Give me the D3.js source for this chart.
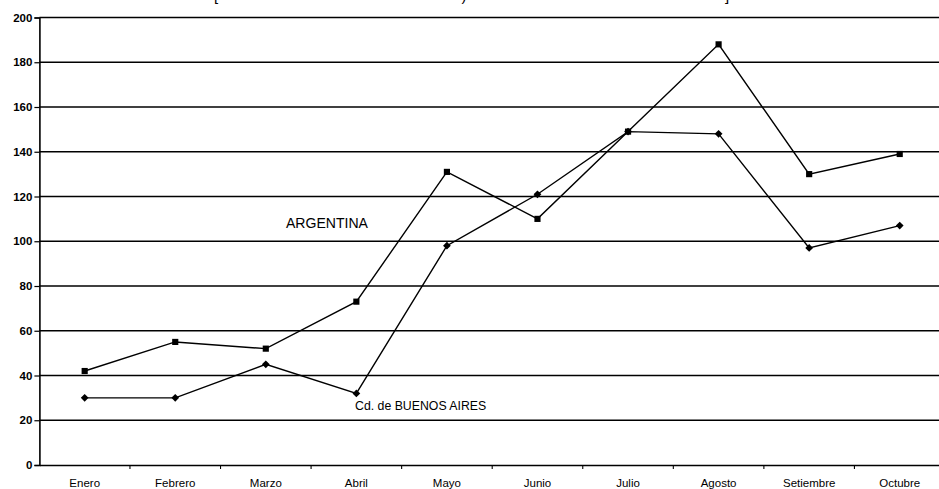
<!DOCTYPE html>
<html>
<head>
<meta charset="utf-8">
<script src="https://cdn.jsdelivr.net/npm/d3@7/dist/d3.min.js"></script>
<style>
  html, body { margin: 0; padding: 0; background: #fff; }
  svg { display: block; }
  text { font-family: "Liberation Sans", Arial, sans-serif; fill: #000; }
</style>
</head>
<body>
<svg id="chart" width="939" height="489"></svg>
<script>
// Months shown on the category axis
const months = ["Enero", "Febrero", "Marzo", "Abril", "Mayo", "Junio", "Julio", "Agosto", "Setiembre", "Octubre"];
// Series values by month
const argentina = [42, 55, 52, 73, 131, 110, 149, 188, 130, 139];
const buenosAires = [30, 30, 45, 32, 98, 121, 149, 148, 97, 107];
// Value axis ticks
const yTicks = [0, 20, 40, 60, 80, 100, 120, 140, 160, 180, 200];
// Series labels
const seriesLabels = ["ARGENTINA", "Cd. de BUENOS AIRES"];

const W = 939, H = 489;
const plot = { left: 39.4, right: 945, top: 17.5, bottom: 465 };

const svg = d3.select("#chart");

const x = d3.scaleBand().domain(months).range([plot.left, plot.right]).paddingInner(0).paddingOuter(0);
const cx = m => x(m) + x.bandwidth() / 2;
const y = d3.scaleLinear().domain([0, 200]).range([plot.bottom, plot.top]);

// Fragments of the heading, cut off at the top edge
const heading = svg.append("g").attr("font-size", 15);
[["[", 216], [")", 464], ["]", 727]].forEach(([c, px]) => {
  heading.append("text").attr("x", px).attr("y", 1).attr("text-anchor", "middle").text(c);
});

// Horizontal gridlines
svg.append("g")
  .selectAll("line")
  .data(yTicks.filter(v => v > 0))
  .join("line")
  .attr("x1", plot.left).attr("x2", W)
  .attr("y1", d => y(d)).attr("y2", d => y(d))
  .attr("stroke", "#000").attr("stroke-width", 1.3);

// Value axis
const yAxis = d3.axisLeft(y).tickValues(yTicks).tickSize(5).tickPadding(2).tickFormat(d3.format("d"));
const gy = svg.append("g").attr("transform", `translate(${plot.left},0)`).call(yAxis);
gy.select(".domain").attr("stroke", "#000").attr("stroke-width", 1.6);
gy.selectAll(".tick line").attr("stroke", "#000").attr("stroke-width", 1.2);
gy.selectAll(".tick text")
  .attr("font-family", "\"Liberation Sans\", Arial, sans-serif")
  .attr("font-size", 11.5).attr("font-weight", "bold").attr("fill", "#000");

// Category axis
const xAxis = d3.axisBottom(x).tickSize(0).tickPadding(14);
const gx = svg.append("g").attr("transform", `translate(0,${plot.bottom})`).call(xAxis);
gx.select(".domain").attr("stroke", "#000").attr("stroke-width", 1.4);
gx.selectAll(".tick text")
  .attr("font-family", "\"Liberation Sans\", Arial, sans-serif")
  .attr("font-size", 11.5).attr("fill", "#000");
// Tick marks between categories
svg.append("g")
  .selectAll("line")
  .data(months.slice(1))
  .join("line")
  .attr("x1", d => x(d)).attr("x2", d => x(d))
  .attr("y1", plot.bottom).attr("y2", plot.bottom + 4)
  .attr("stroke", "#000").attr("stroke-width", 1.1);

const line = d3.line().x((d, i) => cx(months[i])).y(d => y(d));

// ARGENTINA series: squares
svg.append("path").datum(argentina)
  .attr("d", line).attr("fill", "none").attr("stroke", "#000").attr("stroke-width", 1.4);
svg.append("g").selectAll("path")
  .data(argentina)
  .join("path")
  .attr("d", d3.symbol(d3.symbolSquare, 38))
  .attr("transform", (d, i) => `translate(${cx(months[i])},${y(d)})`)
  .attr("fill", "#000");

// Buenos Aires series: diamonds (squares turned 45 degrees)
svg.append("path").datum(buenosAires)
  .attr("d", line).attr("fill", "none").attr("stroke", "#000").attr("stroke-width", 1.4);
svg.append("g").selectAll("path")
  .data(buenosAires)
  .join("path")
  .attr("d", d3.symbol(d3.symbolSquare, 30))
  .attr("transform", (d, i) => `translate(${cx(months[i])},${y(d)}) rotate(45)`)
  .attr("fill", "#000");

// Series labels inside the plot
svg.append("text")
  .attr("x", 286).attr("y", 228)
  .attr("font-size", 14)
  .attr("textLength", 82).attr("lengthAdjust", "spacingAndGlyphs")
  .text(seriesLabels[0]);
svg.append("text")
  .attr("x", 355).attr("y", 410)
  .attr("font-size", 12.3)
  .text(seriesLabels[1]);
</script>
</body>
</html>
